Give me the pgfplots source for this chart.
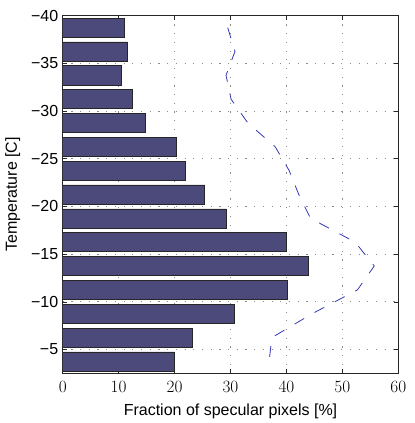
\documentclass[border=0pt]{standalone}
\usepackage{fontspec}
\setmainfont{Liberation Sans}
\usepackage{pgfplots}
\pgfplotsset{compat=1.18}

\definecolor{barfill}{rgb}{0.30,0.29,0.48}
\definecolor{lineblue}{rgb}{0.20,0.22,0.70}

\begin{document}
\begin{tikzpicture}
\begin{axis}[
    scale only axis,
    width=335.6bp,
    height=357.6bp,
    xmin=0, xmax=60,
    ymin=-40, ymax=-2.5,
    y dir=reverse,
    xtick={0,10,...,60},
    ytick={-40,-35,...,-5},
    yticklabels={−40,−35,−30,−25,−20,−15,−10,−5},
    xmajorgrids, ymajorgrids,
    major grid style={dash pattern=on 1.2bp off 7.5bp, gray!90, line width=0.6pt},
    tick align=inside,
    major tick length=4bp,
    axis line style={line width=0.7pt, black!85},
    every tick/.style={black!85, line width=0.5pt},
    tick label style={font=\fontsize{16bp}{19bp}\selectfont},
    label style={font=\fontsize{16bp}{19bp}\selectfont},
    xticklabel style={yshift=-5bp},
    yticklabel style={xshift=-1bp},
    xlabel={Fraction of specular pixels [\%]},
    ylabel={Temperature [C]},
    xlabel style={yshift=-4bp},
    ylabel style={yshift=4bp},
    clip=true,
]

% fraction per temperature bin (bars)
\addplot[xbar, bar width=2, fill=barfill, draw=black!85, line width=0.6pt] coordinates {
    (11.0,-38.75)
    (11.6,-36.25)
    (10.4,-33.75)
    (12.4,-31.25)
    (14.8,-28.75)
    (20.3,-26.25)
    (21.9,-23.75)
    (25.4,-21.25)
    (29.3,-18.75)
    (39.9,-16.25)
    (43.9,-13.75)
    (40.1,-11.25)
    (30.6,-8.75)
    (23.1,-6.25)
    (20.0,-3.75)
};

% dashed curve
\addplot[lineblue, line width=0.8pt, dash pattern=on 11bp off 12bp, mark=none] coordinates {
    (29.5,-38.75)
    (30.8,-36.25)
    (29.2,-33.75)
    (30.1,-31.25)
    (33.1,-28.75)
    (38.0,-26.25)
    (40.5,-23.75)
    (42.2,-21.25)
    (44.3,-18.75)
    (52.3,-16.25)
    (55.7,-13.75)
    (52.7,-11.25)
    (44.6,-8.75)
    (37.4,-6.25)
    (36.9,-3.75)
};

\end{axis}
\pgfresetboundingbox
\path[use as bounding box] ([shift={(-62.7bp,-49.7bp)}]current axis.south west) rectangle ([shift={(16.7bp,15.7bp)}]current axis.north east);
\end{tikzpicture}
\end{document}
